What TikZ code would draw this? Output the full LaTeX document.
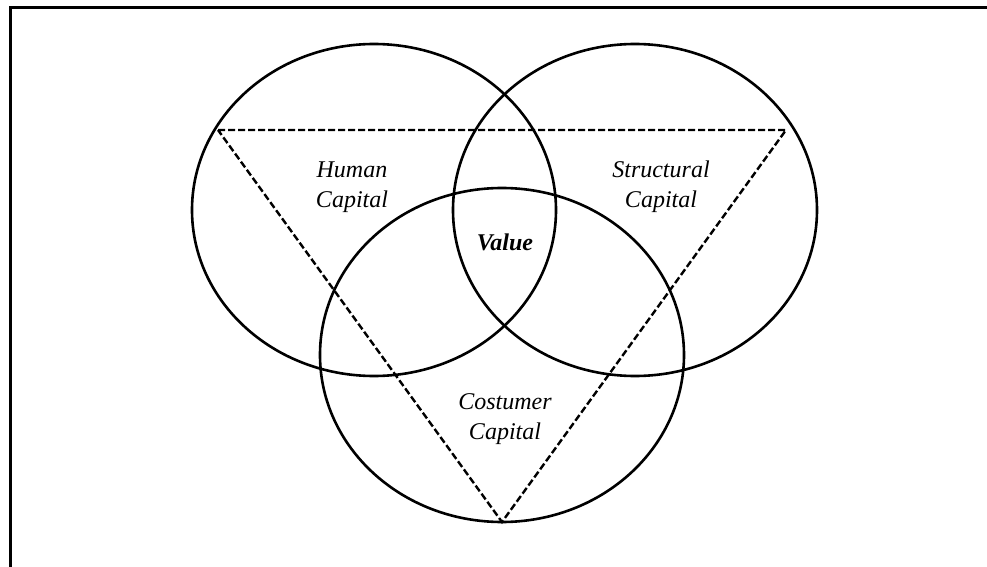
\documentclass[tikz,border=0pt]{standalone}
\usepackage{fontspec}
\setmainfont{Liberation Serif}
\usepackage{tikz}
\usetikzlibrary{calc,positioning}

\tikzset{
  capital/.style={font=\fontsize{12}{15}\selectfont\itshape, align=center, inner sep=1pt},
  rim/.style={line width=1.3pt},
  corner/.style={line width=1.2pt, dash pattern=on 3.5pt off 1.5pt}
}

\begin{document}
\begin{tikzpicture}[x=0.5pt,y=-0.5pt]
\useasboundingbox (0,0) rectangle (987,567);
% frame, only top and left
\draw[line width=1.5pt] (10,567) -- (10,8) -- (987,8);
% the three ellipses
\coordinate (H) at (374,210);
\coordinate (S) at (635,210);
\coordinate (C) at (502,355);
\draw[rim] (H) ellipse (182 and 166);
\draw[rim] (S) ellipse (182 and 166);
\draw[rim] (C) ellipse (182 and 167);
% dashed triangle
\coordinate (TL) at (218,130);
\coordinate (TR) at (786,130);
\coordinate (B) at (502,522);
\draw[corner] (TL) -- (TR) -- (B) -- cycle;
% labels
\node[capital] (human) at (352,187) {Human\\Capital};
\node[capital] (struct) at (661,187) {Structural\\Capital};
\node[capital] (cost) at (505,419) {Costumer\\Capital};
\node[font=\fontsize{12}{15}\selectfont\bfseries\itshape] (value) at (505,242) {Value};
\end{tikzpicture}
\end{document}
